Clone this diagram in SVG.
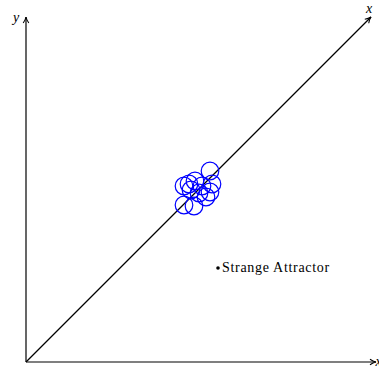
<svg xmlns="http://www.w3.org/2000/svg" width="379" height="368" viewBox="0 0 379 368">
<style>
.ax{stroke:#000;stroke-width:1.2;fill:none}
.c{stroke:#0000ff;stroke-width:1.2;fill:none}
.t{font-family:"Liberation Serif",serif;font-size:14px;fill:#000}
.i{font-style:italic}
</style>
<defs>
<marker id="ah" viewBox="0 0 8 8" refX="7" refY="4" markerWidth="8" markerHeight="8" markerUnits="userSpaceOnUse" orient="auto">
<path d="M1,1.2 Q4,3.4 7,4 Q4,4.6 1,6.8" fill="none" stroke="#000" stroke-width="1.1"/>
</marker>
</defs>
<rect width="379" height="368" fill="#fff"/>
<g id="connectors">
<line class="ax" x1="26" y1="362" x2="26" y2="17" marker-end="url(#ah)"/>
<line class="ax" x1="26" y1="362" x2="376" y2="362" marker-end="url(#ah)"/>
<line class="ax" x1="26" y1="362" x2="371" y2="17" marker-end="url(#ah)"/>
</g>
<g id="labels">
<text class="t i" x="13" y="22">y</text>
<text class="t i" x="366" y="13">x</text>
<text class="t i" x="375.5" y="366">x</text>
</g>
<g id="attractor">
<circle class="c" cx="210" cy="171" r="8.8"/>
<circle class="c" cx="184" cy="186" r="8.8"/>
<circle class="c" cx="189" cy="184" r="8.8"/>
<circle class="c" cx="195" cy="181" r="8.8"/>
<circle class="c" cx="202" cy="186" r="8.8"/>
<circle class="c" cx="212" cy="184" r="8.8"/>
<circle class="c" cx="210" cy="192" r="8.8"/>
<circle class="c" cx="206" cy="197" r="8.8"/>
<circle class="c" cx="194" cy="206" r="8.8"/>
<circle class="c" cx="184" cy="205" r="8.8"/>
<circle class="c" cx="199" cy="193" r="8.8"/>
<circle class="c" cx="191" cy="190" r="8.8"/>
</g>
<g id="strange-attractor">
<circle cx="218" cy="268" r="1.8" fill="#000"/>
<text class="t" x="222" y="272" font-size="15.5" letter-spacing="0.7">Strange Attractor</text>
</g>
</svg>
